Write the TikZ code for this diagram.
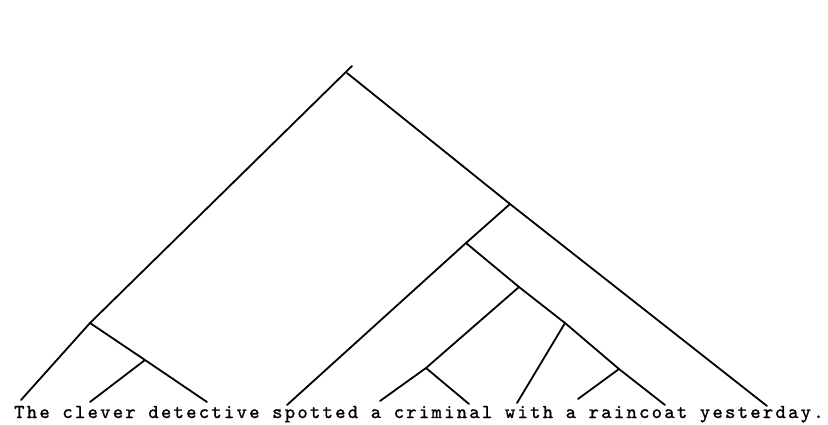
\documentclass[tikz,border=0pt]{standalone}
\usepackage{fontspec}
\newfontfamily\typewriter{lmmono10-regular.otf}[LetterSpace=11.5,FakeBold=1.2]
\begin{document}
\begin{tikzpicture}[x=1pt,y=-1pt,
  branch/.style={line width=1.8pt,line cap=round},
  sentence/.style={font=\typewriter\fontsize{19.7}{22}\selectfont,inner sep=0pt,anchor=base west}]
\useasboundingbox (0,0) rectangle (828,424);
% internal points
\coordinate (rtop) at (352,66);
\coordinate (root) at (347,73);
\coordinate (np) at (90,323);
\coordinate (adj) at (145,360);
\coordinate (vp) at (510,204);
\coordinate (vb) at (466,243);
\coordinate (obj) at (519,287);
\coordinate (det) at (426,368);
\coordinate (pp) at (565,323);
\coordinate (pnp) at (619,369);
% leaf tips
\coordinate (lThe) at (21,400);
\coordinate (lclever) at (90,402);
\coordinate (ldetective) at (207,402);
\coordinate (lspotted) at (287,405);
\coordinate (la) at (380,401);
\coordinate (lcriminal) at (469,404);
\coordinate (lwith) at (517,403);
\coordinate (la2) at (578,399);
\coordinate (lraincoat) at (665,405);
\coordinate (lyesterday) at (767,406);
% sentence
\node[sentence] (s) at (14,418) {The clever detective spotted a criminal with a raincoat yesterday.};
% branches
\draw[branch] (lThe) -- (np) -- (rtop);
\draw[branch] (np) -- (adj) -- (ldetective);
\draw[branch] (adj) -- (lclever);
\draw[branch] (root) -- (vp) -- (lyesterday);
\draw[branch] (vp) -- (vb) -- (lspotted);
\draw[branch] (vb) -- (obj) -- (pp) -- (pnp) -- (lraincoat);
\draw[branch] (obj) -- (det) -- (la);
\draw[branch] (det) -- (lcriminal);
\draw[branch] (pp) -- (lwith);
\draw[branch] (pnp) -- (la2);
\end{tikzpicture}
\end{document}
